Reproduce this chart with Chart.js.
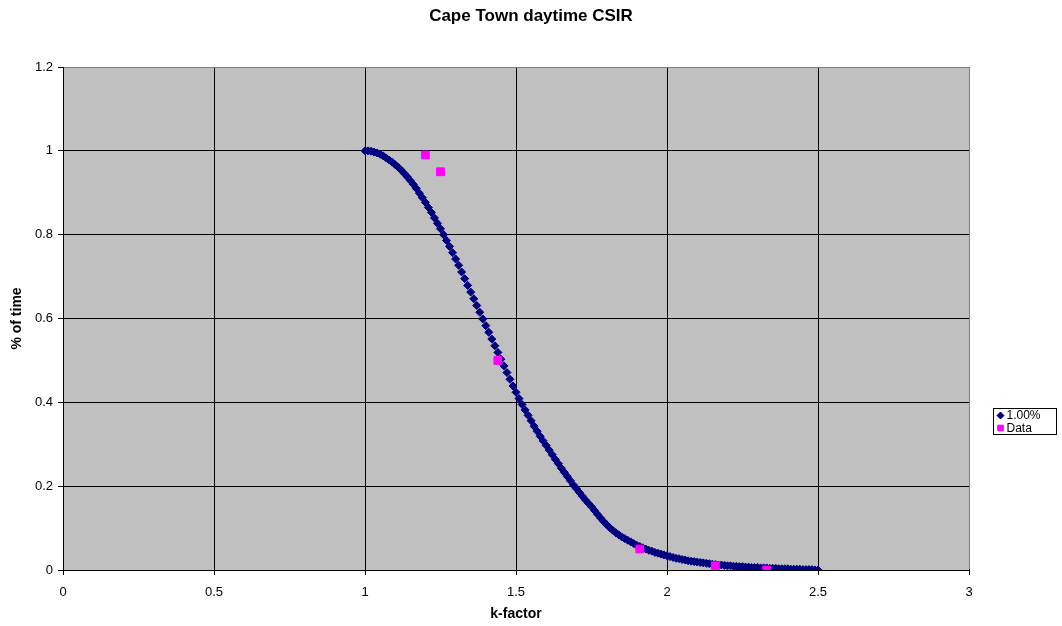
<!DOCTYPE html>
<html>
<head>
<meta charset="utf-8">
<title>Cape Town daytime CSIR</title>
<script src="https://cdn.jsdelivr.net/npm/chart.js@4.4.1/dist/chart.umd.min.js"></script>
<style>
  html, body { margin: 0; padding: 0; background: #fff; }
  #wrap { width: 1062px; height: 626px; }
</style>
</head>
<body>
<div id="wrap"><canvas id="kChart" width="1062" height="626"></canvas></div>
<script>
// k-factor de la courbe 1.00% (pas de 0.01)
const kFactor = [
  1.00, 1.01, 1.02, 1.03, 1.04, 1.05, 1.06, 1.07, 1.08, 1.09,
  1.10, 1.11, 1.12, 1.13, 1.14, 1.15, 1.16, 1.17, 1.18, 1.19,
  1.20, 1.21, 1.22, 1.23, 1.24, 1.25, 1.26, 1.27, 1.28, 1.29,
  1.30, 1.31, 1.32, 1.33, 1.34, 1.35, 1.36, 1.37, 1.38, 1.39,
  1.40, 1.41, 1.42, 1.43, 1.44, 1.45, 1.46, 1.47, 1.48, 1.49,
  1.50, 1.51, 1.52, 1.53, 1.54, 1.55, 1.56, 1.57, 1.58, 1.59,
  1.60, 1.61, 1.62, 1.63, 1.64, 1.65, 1.66, 1.67, 1.68, 1.69,
  1.70, 1.71, 1.72, 1.73, 1.74, 1.75, 1.76, 1.77, 1.78, 1.79,
  1.80, 1.81, 1.82, 1.83, 1.84, 1.85, 1.86, 1.87, 1.88, 1.89,
  1.90, 1.91, 1.92, 1.93, 1.94, 1.95, 1.96, 1.97, 1.98, 1.99,
  2.00, 2.01, 2.02, 2.03, 2.04, 2.05, 2.06, 2.07, 2.08, 2.09,
  2.10, 2.11, 2.12, 2.13, 2.14, 2.15, 2.16, 2.17, 2.18, 2.19,
  2.20, 2.21, 2.22, 2.23, 2.24, 2.25, 2.26, 2.27, 2.28, 2.29,
  2.30, 2.31, 2.32, 2.33, 2.34, 2.35, 2.36, 2.37, 2.38, 2.39,
  2.40, 2.41, 2.42, 2.43, 2.44, 2.45, 2.46, 2.47, 2.48, 2.49,
  2.50
];
const fitPct = [
  1.000, 1.000, 0.999, 0.997, 0.995, 0.992, 0.988, 0.983, 0.978, 0.973,
  0.967, 0.961, 0.954, 0.946, 0.938, 0.929, 0.920, 0.910, 0.899, 0.888,
  0.877, 0.865, 0.853, 0.840, 0.827, 0.814, 0.800, 0.786, 0.772, 0.757,
  0.742, 0.727, 0.711, 0.695, 0.679, 0.663, 0.647, 0.631, 0.615, 0.599,
  0.583, 0.567, 0.551, 0.535, 0.519, 0.503, 0.487, 0.471, 0.455, 0.439,
  0.424, 0.409, 0.395, 0.382, 0.369, 0.356, 0.343, 0.331, 0.319, 0.308,
  0.297, 0.286, 0.275, 0.264, 0.254, 0.243, 0.233, 0.223, 0.213, 0.203,
  0.194, 0.185, 0.176, 0.167, 0.159, 0.151, 0.142, 0.133, 0.124, 0.116,
  0.108, 0.101, 0.095, 0.089, 0.084, 0.079, 0.075, 0.071, 0.067, 0.063,
  0.059, 0.056, 0.053, 0.050, 0.047, 0.045, 0.042, 0.040, 0.038, 0.036,
  0.034, 0.032, 0.030, 0.028, 0.027, 0.025, 0.024, 0.022, 0.021, 0.020,
  0.019, 0.018, 0.017, 0.016, 0.015, 0.014, 0.013, 0.012, 0.012, 0.011,
  0.010, 0.010, 0.009, 0.009, 0.008, 0.008, 0.007, 0.007, 0.006, 0.006,
  0.006, 0.005, 0.005, 0.005, 0.004, 0.004, 0.004, 0.003, 0.003, 0.003,
  0.003, 0.002, 0.002, 0.002, 0.002, 0.001, 0.001, 0.001, 0.001, 0.000,
  0.000
];

// points mesurés
const dataK = [1.20, 1.25, 1.44, 1.91, 2.16, 2.33];
const dataPct = [0.99, 0.95, 0.50, 0.05, 0.01, 0.00];

const seriesNames = ["1.00%", "Data"];
const xRange = [0, 3];
const xStep = 0.5;
const yRange = [0, 1.2];
const yStep = 0.2;

const FONT = "'Liberation Sans', Arial, Helvetica, sans-serif";
const fmtTick = (v) => String(+Number(v).toFixed(2));

// fond gris de la zone de tracé + bord haut/droite
const plotArea = {
  id: "plotArea",
  beforeDraw(chart) {
    const { ctx, chartArea: a } = chart;
    ctx.save();
    ctx.fillStyle = "#c0c0c0";
    ctx.fillRect(a.left, a.top, a.right - a.left, a.bottom - a.top);
    ctx.restore();
  },
  beforeDatasetsDraw(chart) {
    const { ctx, chartArea: a } = chart;
    ctx.save();
    ctx.strokeStyle = "#808080";
    ctx.lineWidth = 1;
    ctx.beginPath();
    ctx.moveTo(a.left + 1, Math.round(a.top) + 0.5);
    ctx.lineTo(Math.round(a.right) + 0.5, Math.round(a.top) + 0.5);
    ctx.lineTo(Math.round(a.right) + 0.5, a.bottom - 1);
    ctx.stroke();
    ctx.restore();
  }
};

// légende à droite, style Excel
const sideLegend = {
  id: "sideLegend",
  afterDraw(chart) {
    const ctx = chart.ctx;
    const box = { x: 993.5, y: 408.5, w: 63, h: 26 };
    ctx.save();
    ctx.fillStyle = "#fff";
    ctx.fillRect(box.x, box.y, box.w, box.h);
    ctx.strokeStyle = "#000";
    ctx.lineWidth = 1;
    ctx.strokeRect(box.x, box.y, box.w, box.h);
    ctx.font = "12px " + FONT;
    ctx.textBaseline = "middle";
    ctx.textAlign = "left";
    chart.data.datasets.forEach((ds, i) => {
      const cy = box.y + 7 + i * 12.5;
      ctx.fillStyle = ds.backgroundColor;
      ctx.strokeStyle = ds.borderColor;
      Chart.helpers.drawPoint(ctx, {
        pointStyle: ds.pointStyle,
        radius: ds.pointStyle === "rect" ? 4 : 3.5,
        rotation: 0,
        borderWidth: 1
      }, box.x + 7, cy);
      ctx.fillStyle = "#000";
      ctx.fillText(ds.label, box.x + 13, cy + 0.5);
    });
    ctx.restore();
  }
};

const ctx = document.getElementById("kChart").getContext("2d");

new Chart(ctx, {
  type: "scatter",
  data: {
    datasets: [
      {
        label: seriesNames[0],
        data: kFactor.map((k, i) => ({ x: k, y: fitPct[i] })),
        pointStyle: "rectRot",
        pointRadius: 4,
        backgroundColor: "#000080",
        borderColor: "#000080",
        borderWidth: 1,
        order: 2
      },
      {
        label: seriesNames[1],
        data: dataK.map((k, i) => ({ x: k, y: dataPct[i] })),
        pointStyle: "rect",
        pointRadius: 5.5,
        backgroundColor: "#ff00ff",
        borderColor: "#ff00ff",
        borderWidth: 1,
        order: 1
      }
    ]
  },
  options: {
    responsive: false,
    animation: false,
    events: [],
    layout: { padding: 0 },
    plugins: {
      legend: { display: false },
      tooltip: { enabled: false },
      title: {
        display: true,
        text: "Cape Town daytime CSIR",
        color: "#000",
        font: { family: FONT, size: 17, weight: "bold" },
        padding: { top: 6.5, bottom: 40.1 }
      }
    },
    scales: {
      x: {
        type: "linear",
        min: xRange[0],
        max: xRange[1],
        ticks: {
          stepSize: xStep,
          color: "#000",
          padding: 10,
          font: { family: FONT, size: 13 },
          callback: fmtTick
        },
        grid: { color: "#000", lineWidth: 1, tickLength: 5 },
        border: { color: "#000", width: 1 },
        title: {
          display: true,
          text: "k-factor",
          color: "#000",
          font: { family: FONT, size: 14, weight: "bold" },
          padding: { top: 0, bottom: 3.6 }
        },
        afterFit(s) { s.height = 56; }
      },
      y: {
        type: "linear",
        position: "left",
        min: yRange[0],
        max: yRange[1],
        ticks: {
          stepSize: yStep,
          color: "#000",
          padding: 5,
          font: { family: FONT, size: 13 },
          callback: fmtTick
        },
        grid: { color: "#000", lineWidth: 1, tickLength: 5 },
        border: { color: "#000", width: 1 },
        title: {
          display: true,
          text: "% of time",
          color: "#000",
          font: { family: FONT, size: 14, weight: "bold" },
          padding: { top: 9, bottom: 0 }
        },
        afterFit(s) { s.width = 63; }
      },
      // espace réservé pour la légende
      yRight: {
        type: "linear",
        position: "right",
        display: true,
        grid: { display: false },
        border: { display: false },
        ticks: { display: false },
        afterFit(s) { s.width = 93; }
      }
    }
  },
  plugins: [plotArea, sideLegend]
});
</script>
</body>
</html>
